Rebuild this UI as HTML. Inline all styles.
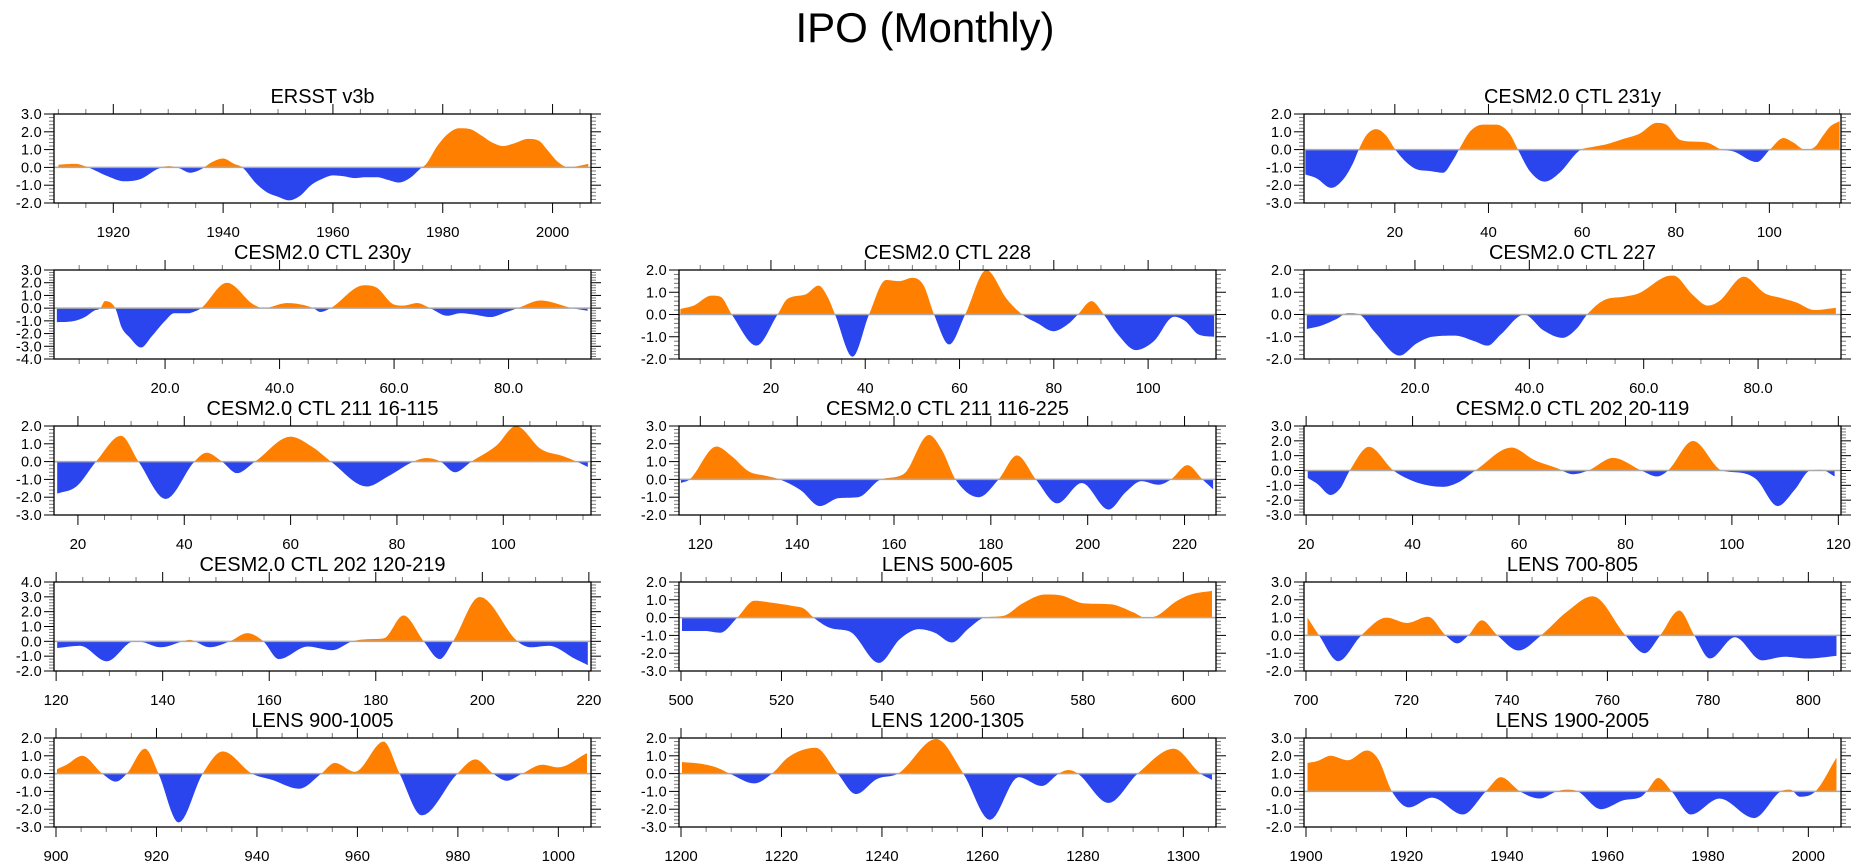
<!DOCTYPE html>
<html><head><meta charset="utf-8"><title>IPO (Monthly)</title>
<style>
html,body{margin:0;padding:0;background:#fff;}
svg{display:block;font-family:"Liberation Sans",Arial,sans-serif;}
</style></head>
<body>
<svg id="fig" width="1861" height="868" viewBox="0 0 1861 868" xmlns="http://www.w3.org/2000/svg">
<text x="925" y="42" font-size="42" text-anchor="middle" fill="#000">IPO (Monthly)</text>
</svg>
<script>
// ---------- data ----------
const ersstX=[1910,1913,1915.4,1919,1922,1925,1928,1930,1932,1934,1936,1938,1940,1942,1943.5,1946,1948,1950,1952,1954,1956,1958,1960,1962,1964,1966,1968,1970,1972,1974,1976,1977,1979,1981,1983,1985,1987,1989,1991,1993,1995.5,1997.5,1999,2001,2003,2005,2006.5];
const ersstY=[0.15,0.2,0,-0.5,-0.78,-0.65,-0.1,0.07,-0.05,-0.3,-0.1,0.3,0.5,0.2,0,-0.9,-1.4,-1.65,-1.85,-1.6,-1.0,-0.65,-0.45,-0.5,-0.6,-0.55,-0.55,-0.7,-0.85,-0.6,-0.05,0.2,1.2,1.9,2.2,2.15,1.8,1.4,1.2,1.35,1.6,1.5,1.0,0.3,0.0,0.1,0.2];

const c231X=[0.9,3.2,6.4,8.9,11,12.3,13.9,16,18.1,20.1,22.4,24.6,27.4,30.3,32.4,33.7,36,38.8,41.7,44.5,46.3,48.8,52,55.2,58.8,59.8,62.3,65.2,68.8,72.3,75.9,78,80.9,83.7,86.6,89.8,92.3,97.3,100.1,103,105.1,107.6,109.7,111.5,113,115];
const c231Y=[-1.4,-1.6,-2.15,-1.7,-0.8,0,0.8,1.15,0.8,0,-0.7,-1.1,-1.2,-1.3,-0.6,0,1.0,1.4,1.4,0.9,0,-1.2,-1.8,-1.3,-0.2,0,0.15,0.3,0.6,0.9,1.5,1.4,0.55,0.45,0.4,0,-0.1,-0.7,0,0.65,0.4,0,0.15,0.8,1.3,1.6];

const c230X=[1.1,3.6,6,7.6,8.7,9.5,11.3,12.4,13.8,15.8,17.7,20,21.6,24,25.5,26.3,30.8,35.4,37.2,41.3,43.6,45.9,47.1,48.9,54.7,57,59.9,61.6,64,66.3,69.3,71.6,73.9,76.8,79.7,81.6,85.6,91.1,93.8];
const c230Y=[-1.1,-1.05,-0.7,-0.2,0,0.55,0,-1.5,-2.3,-3.1,-2.2,-1.0,-0.4,-0.4,-0.2,0,2.0,0.3,0.0,0.4,0.3,0,-0.3,0,1.8,1.6,0.3,0.2,0.4,0,-0.6,-0.4,-0.5,-0.7,-0.3,0,0.6,0,-0.2];

const c228X=[0.8,3.6,7.4,9.3,11.7,16.9,21.4,23.5,27.3,30.1,32,33.6,37.3,40.8,44.4,47.2,50,52.4,54.6,57.8,61.2,65.7,70,73.3,76.6,79.9,83.2,85.1,88,90.6,93.6,97.4,101.2,105.5,107.9,110.7,114];
const c228Y=[0.25,0.4,0.85,0.8,0,-1.4,0,0.7,0.9,1.3,0.8,0,-1.9,0,1.55,1.5,1.65,1.3,0,-1.35,0,2.0,0.7,0,-0.4,-0.75,-0.4,0,0.6,0,-0.9,-1.6,-1.2,-0.1,-0.3,-0.9,-1.0];

const c227X=[1.1,3.6,6.3,8.3,10.3,13,17.3,20.3,23,27,30.4,32.7,35,39.1,42.4,45.8,48.4,50.1,53.1,56.5,59.1,63.8,65.2,68.5,71.2,73.2,77.5,81.2,83.9,86.6,89.9,93.6];
const c227Y=[-0.65,-0.5,-0.2,0.07,0,-0.8,-1.85,-1.3,-1.0,-0.95,-1.2,-1.4,-0.9,0,-0.7,-1.05,-0.6,0,0.65,0.8,0.95,1.7,1.75,0.9,0.4,0.6,1.7,0.95,0.75,0.55,0.2,0.3];

const c211aX=[16.1,19.7,23.4,28.1,31.4,36.5,41.9,44.2,47.1,49.9,53.3,60,64.2,67.6,74.3,78.5,83.1,85.6,88.2,90.9,94,98.7,102.4,107.1,111.3,113.8,115.9];
const c211aY=[-1.8,-1.4,0,1.45,0,-2.1,0,0.5,0,-0.65,0,1.4,0.8,0,-1.4,-0.8,0,0.2,0,-0.6,0,0.9,2.0,0.7,0.3,0,-0.3];

const c211bX=[116,117.8,123.3,126.5,130,133.6,136.4,140.7,144.7,148.6,152.6,157.3,162,167.2,170,172.7,177.5,181.6,185.4,189.3,193.7,198.8,204.3,207.9,211.1,214.6,217.2,220.6,223.7,225.9];
const c211bY=[-0.2,0,1.85,1.3,0.45,0.2,0,-0.6,-1.5,-1.05,-1.0,0,0.3,2.5,1.6,0,-1.0,0,1.35,0,-1.35,-0.2,-1.7,-0.7,-0.1,-0.3,0,0.8,0,-0.55];

const c202aX=[20.3,22.1,24.6,26.4,28.2,31.8,36.4,40,42.9,45.7,48.6,51.8,58.6,62.9,67.2,70.1,73,77.7,83,85.9,88,92.7,98.1,101.7,104.6,108.6,111.8,114.7,116.8,119.3];
const c202aY=[-0.5,-0.9,-1.65,-1.2,0,1.6,0,-0.7,-1.0,-1.1,-0.8,0,1.55,0.7,0.15,-0.25,0,0.85,0,-0.4,0,2.0,0,-0.15,-0.6,-2.4,-1.3,0,0.05,-0.4];

const c202bX=[120.2,124.5,129.5,134.6,136.2,139.6,143.8,145,148.8,152.6,155.9,158.9,161.8,167.2,171.8,175.6,179,181.5,185.2,189,192,194.5,199.5,206.6,209.1,212.5,217.5,219.8];
const c202bY=[-0.45,-0.3,-1.35,0,-0.05,-0.4,0,0.1,-0.4,0,0.55,0,-1.2,-0.35,-0.6,0,0.15,0.2,1.75,0,-1.2,0,3.0,0,-0.4,-0.3,-1.2,-1.6];

const l500X=[500.2,504.7,507.8,511.2,514.6,517.7,522.3,524.5,526.4,529.9,533.7,539.4,543.6,547.4,550.5,553.9,557.3,560.4,564.2,568,572.5,575.6,580.2,585.5,590,592.4,594.7,598.5,601.5,605.7];
const l500Y=[-0.75,-0.75,-0.85,0,0.95,0.85,0.65,0.5,0,-0.6,-0.8,-2.55,-1.2,-0.65,-0.85,-1.4,-0.6,0,0.1,0.8,1.3,1.25,0.8,0.75,0.3,0,0.1,0.9,1.3,1.5];

const l700X=[700.3,702.6,706.4,711,716,720.1,724.3,727.8,730.1,732.3,735,738.1,742.3,746.8,751.8,757.1,763.6,767.4,770.5,774.3,777.3,780.4,785.4,790.7,795.3,799.8,805.6];
const l700Y=[1.0,0,-1.45,0,1.0,0.7,1.05,0,-0.45,0,0.85,0,-0.85,0,1.3,2.2,0,-1.0,0,1.4,0,-1.3,-0.1,-1.4,-1.2,-1.3,-1.15];

const l900X=[900.2,902.1,905.2,909.2,911.9,914.1,917.7,920.4,924.4,929.2,933.2,939,943,948.4,952.8,955.5,959.5,965.2,968.4,972.8,979.9,983.5,987,989.7,992.8,996.8,999.9,1005.7];
const l900Y=[0.25,0.5,1.0,0,-0.45,0,1.4,0,-2.75,0,1.25,0,-0.35,-0.85,0,0.6,0.1,1.8,0,-2.35,0,0.8,0,-0.4,0,0.5,0.35,1.15];

const l1200X=[1200.2,1204,1207,1209.7,1214.6,1218.1,1221.5,1226.8,1231.2,1234.8,1239,1243.2,1250.8,1256.2,1261.5,1267.2,1271.8,1275.2,1277.1,1279,1285.1,1290.9,1298.1,1303.4,1305.7];
const l1200Y=[0.65,0.55,0.35,0,-0.55,0,0.95,1.45,0,-1.15,-0.3,0,1.95,0,-2.6,-0.2,-0.7,0,0.2,0,-1.65,0,1.4,0,-0.35];

const l1900X=[1900.3,1902.2,1904.9,1908.3,1912.1,1914.4,1917.1,1920.5,1925.1,1931.2,1935.8,1938.8,1942.6,1946.5,1949.9,1951.8,1954.1,1958.7,1963.2,1966.7,1967.8,1970.1,1972.8,1976.6,1982.3,1989.2,1994.5,1996.4,1998.3,2001.4,2005.6];
const l1900Y=[1.6,1.7,2.0,1.75,2.3,1.8,0,-0.9,-0.35,-1.3,0,0.8,0,-0.4,0,0.1,0,-1.0,-0.5,-0.3,0,0.75,0,-1.3,-0.4,-1.5,0,0.1,-0.3,0,1.9];

// tick label arrays
const ticksYear20=[1920,1940,1960,1980,2000];
const ticks20to100=[20,40,60,80,100];
const ticks20to80=[20,40,60,80];
const ticks20to120=[20,40,60,80,100,120];
const ticks120to220=[120,140,160,180,200,220];
const ticks500=[500,520,540,560,580,600];
const ticks700=[700,720,740,760,780,800];
const ticks900=[900,920,940,960,980,1000];
const ticks1200=[1200,1220,1240,1260,1280,1300];
const ticks1900=[1900,1920,1940,1960,1980,2000];

const panels=[
 {name:"ersst-v3b",title:"ERSST v3b",col:0,row:0,xmin:1909.2,xmax:2007,ymin:-2,ymax:3,xs:ersstX,ys:ersstY,ticks:ticksYear20,minorFrom:1910,dec:0},
 {name:"cesm-231y",title:"CESM2.0 CTL 231y",col:2,row:0,xmin:0.6,xmax:115.3,ymin:-3,ymax:2,xs:c231X,ys:c231Y,ticks:ticks20to100,minorFrom:5,dec:0},
 {name:"cesm-230y",title:"CESM2.0 CTL 230y",col:0,row:1,xmin:0.6,xmax:94.4,ymin:-4,ymax:3,xs:c230X,ys:c230Y,ticks:ticks20to80,minorFrom:5,dec:1},
 {name:"cesm-228",title:"CESM2.0 CTL 228",col:1,row:1,xmin:0.5,xmax:114.4,ymin:-2,ymax:2,xs:c228X,ys:c228Y,ticks:ticks20to100,minorFrom:5,dec:0},
 {name:"cesm-227",title:"CESM2.0 CTL 227",col:2,row:1,xmin:0.6,xmax:94.5,ymin:-2,ymax:2,xs:c227X,ys:c227Y,ticks:ticks20to80,minorFrom:5,dec:1},
 {name:"cesm-211-16-115",title:"CESM2.0 CTL 211 16-115",col:0,row:2,xmin:15.5,xmax:116.5,ymin:-3,ymax:2,xs:c211aX,ys:c211aY,ticks:ticks20to100,minorFrom:20,dec:0},
 {name:"cesm-211-116-225",title:"CESM2.0 CTL 211 116-225",col:1,row:2,xmin:115.6,xmax:226.5,ymin:-2,ymax:3,xs:c211bX,ys:c211bY,ticks:ticks120to220,minorFrom:120,dec:0},
 {name:"cesm-202-20-119",title:"CESM2.0 CTL 202 20-119",col:2,row:2,xmin:19.6,xmax:120.5,ymin:-3,ymax:3,xs:c202aX,ys:c202aY,ticks:ticks20to120,minorFrom:20,dec:0},
 {name:"cesm-202-120-219",title:"CESM2.0 CTL 202 120-219",col:0,row:3,xmin:119.6,xmax:220.4,ymin:-2,ymax:4,xs:c202bX,ys:c202bY,ticks:ticks120to220,minorFrom:120,dec:0},
 {name:"lens-500-605",title:"LENS 500-605",col:1,row:3,xmin:499.6,xmax:606.5,ymin:-3,ymax:2,xs:l500X,ys:l500Y,ticks:ticks500,minorFrom:500,dec:0},
 {name:"lens-700-805",title:"LENS 700-805",col:2,row:3,xmin:699.6,xmax:806.5,ymin:-2,ymax:3,xs:l700X,ys:l700Y,ticks:ticks700,minorFrom:700,dec:0},
 {name:"lens-900-1005",title:"LENS 900-1005",col:0,row:4,xmin:899.6,xmax:1006.5,ymin:-3,ymax:2,xs:l900X,ys:l900Y,ticks:ticks900,minorFrom:900,dec:0},
 {name:"lens-1200-1305",title:"LENS 1200-1305",col:1,row:4,xmin:1199.6,xmax:1306.5,ymin:-3,ymax:2,xs:l1200X,ys:l1200Y,ticks:ticks1200,minorFrom:1200,dec:0},
 {name:"lens-1900-2005",title:"LENS 1900-2005",col:2,row:4,xmin:1899.6,xmax:2006.5,ymin:-2,ymax:3,xs:l1900X,ys:l1900Y,ticks:ticks1900,minorFrom:1900,dec:0}
];

const NS="http://www.w3.org/2000/svg";
const svg=document.getElementById("fig");
const COLX=[54,679,1304], ROWY=[114,270,426,582,738], W=537, H=89;
function mk(tag,attrs,parent){const e=document.createElementNS(NS,tag);for(const k in attrs)e.setAttribute(k,attrs[k]);parent.appendChild(e);return e;}

function monotone(xs,ys){
  const n=xs.length,d=[],m=new Array(n);
  for(let i=0;i<n-1;i++)d.push((ys[i+1]-ys[i])/(xs[i+1]-xs[i]));
  m[0]=d[0];m[n-1]=d[n-2];
  for(let i=1;i<n-1;i++){ if(d[i-1]*d[i]<=0)m[i]=0; else m[i]=(d[i-1]+d[i])/2; }
  for(let i=0;i<n-1;i++){
    if(d[i]===0){m[i]=0;m[i+1]=0;continue;}
    const a=m[i]/d[i],b=m[i+1]/d[i],s=a*a+b*b;
    if(s>9){const t=3/Math.sqrt(s);m[i]=t*a*d[i];m[i+1]=t*b*d[i];}
  }
  const out=[];
  for(let i=0;i<n-1;i++){
    const h=xs[i+1]-xs[i];
    for(let k=0;k<10;k++){
      const t=k/10,t2=t*t,t3=t2*t;
      const v=(2*t3-3*t2+1)*ys[i]+(t3-2*t2+t)*h*m[i]+(-2*t3+3*t2)*ys[i+1]+(t3-t2)*h*m[i+1];
      out.push([xs[i]+t*h,v]);
    }
  }
  out.push([xs[n-1],ys[n-1]]);
  return out;
}

panels.forEach((p,pi)=>{
  const X0=COLX[p.col],Y0=ROWY[p.row];
  const sx=v=>X0+(v-p.xmin)/(p.xmax-p.xmin)*W;
  const sy=v=>Y0+(p.ymax-v)/(p.ymax-p.ymin)*H;
  const g=mk("g",{},svg);
  
  

  const t=mk("text",{x:X0+W/2,y:Y0-11,"font-size":20,"text-anchor":"middle",fill:"#000"},g);
  t.textContent=p.title;
  
  

  const defs=mk("defs",{},g);
  const cpU=mk("clipPath",{id:"up"+pi},defs);
  mk("rect",{x:X0,y:Y0,width:W,height:sy(0)-Y0},cpU);
  const cpD=mk("clipPath",{id:"dn"+pi},defs);
  mk("rect",{x:X0,y:sy(0),width:W,height:Y0+H-sy(0)},cpD);

  const pts=monotone(p.xs,p.ys);
  let d="M"+sx(pts[0][0]).toFixed(2)+","+sy(0).toFixed(2);
  pts.forEach(q=>{d+="L"+sx(q[0]).toFixed(2)+","+sy(q[1]).toFixed(2);});
  d+="L"+sx(pts[pts.length-1][0]).toFixed(2)+","+sy(0).toFixed(2)+"Z";
  const pos=mk("path",{d:d,fill:"#ff8000","clip-path":"url(#up"+pi+")"},g);
  
  
  const neg=mk("path",{d:d,fill:"#2a44ee","clip-path":"url(#dn"+pi+")"},g);
  
  

  const zl=mk("line",{x1:X0,x2:X0+W,y1:sy(0),y2:sy(0),stroke:"#aaaaaa","stroke-width":1.5},g);
  
  

  for(let v=p.ymin;v<=p.ymax+1e-6;v+=0.2){
    const r=Math.round(v*5)/5, yy=sy(r), major=Math.abs(r-Math.round(r))<1e-6;
    const len=major?10:5, col=major?"#000":"#777";
    mk("line",{x1:X0-len,x2:X0,y1:yy,y2:yy,stroke:col,"stroke-width":1},g);
    mk("line",{x1:X0+W,x2:X0+W+len,y1:yy,y2:yy,stroke:col,"stroke-width":1},g);
    if(major){
      const lb=mk("text",{x:X0-12,y:yy+5,"font-size":14.5,"letter-spacing":0.3,"text-anchor":"end",fill:"#000"},g);
      lb.textContent=(Math.abs(r)<1e-9?0:r).toFixed(1);
      
      
    }
  }
  for(let v=p.minorFrom;v<=p.xmax;v+=5){
    if(v<p.xmin)continue;
    const xx=sx(v), major=p.ticks.indexOf(v)>=0, len=major?10:5, col=major?"#000":"#777";
    mk("line",{x1:xx,x2:xx,y1:Y0+H,y2:Y0+H+len,stroke:col,"stroke-width":1},g);
    mk("line",{x1:xx,x2:xx,y1:Y0-len,y2:Y0,stroke:col,"stroke-width":1},g);
  }
  p.ticks.forEach(v=>{
    const lb=mk("text",{x:sx(v),y:Y0+H+34,"font-size":15,"text-anchor":"middle",fill:"#000"},g);
    lb.textContent=p.dec?v.toFixed(1):String(v);
    
    
  });

  const box=mk("rect",{x:X0,y:Y0,width:W,height:H,fill:"none",stroke:"#000","stroke-width":1.3},g);
  
  
});
</script>
</body></html>
